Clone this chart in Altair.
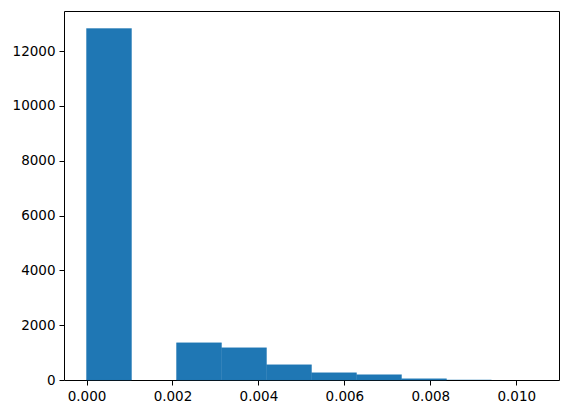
import altair as alt
import pandas as pd

bin_start = [0.0, 0.001047, 0.002094, 0.003141, 0.004188, 0.005235, 0.006282, 0.007329, 0.008376, 0.009423]
bin_end = [0.001047, 0.002094, 0.003141, 0.004188, 0.005235, 0.006282, 0.007329, 0.008376, 0.009423, 0.01047]
counts = [12820, 0, 1355, 1175, 555, 265, 195, 45, 8, 3]

x_ticks = [0.0, 0.002, 0.004, 0.006, 0.008, 0.010]
y_ticks = [0, 2000, 4000, 6000, 8000, 10000, 12000]

df = pd.DataFrame({"start": bin_start, "end": bin_end, "count": counts})

font = "DejaVu Sans"

chart = (
    alt.Chart(df)
    .mark_rect(color="#1f77b4", strokeWidth=0.4)
    .encode(
        x=alt.X(
            "start:Q",
            scale=alt.Scale(domain=[-0.0005235, 0.0109935], nice=False, zero=False),
            axis=alt.Axis(values=x_ticks, format=".3f", title=None),
        ),
        x2="end:Q",
        y=alt.Y(
            "count:Q",
            scale=alt.Scale(domain=[0, 13461], nice=False),
            axis=alt.Axis(values=y_ticks, format="d", title=None),
        ),
        y2=alt.datum(0),
        stroke=alt.condition(
            alt.datum["count"] > 20, alt.value("#1f77b4"), alt.value("transparent")
        ),
    )
    .properties(width=495, height=369, padding={"left": 56, "top": 3, "right": 2, "bottom": 26})
    .configure(autosize=alt.AutoSizeParams(type="none"))
    .configure_view(stroke="black", strokeWidth=1)
    .configure_axis(
        grid=False,
        domain=False,
        tickColor="black",
        tickSize=5,
        tickWidth=1,
        labelColor="black",
        labelFont=font,
        labelFontSize=13.5,
        labelPadding=4,
    )
)

chart.save("out.html", embed_options={"renderer": "svg", "actions": False})
